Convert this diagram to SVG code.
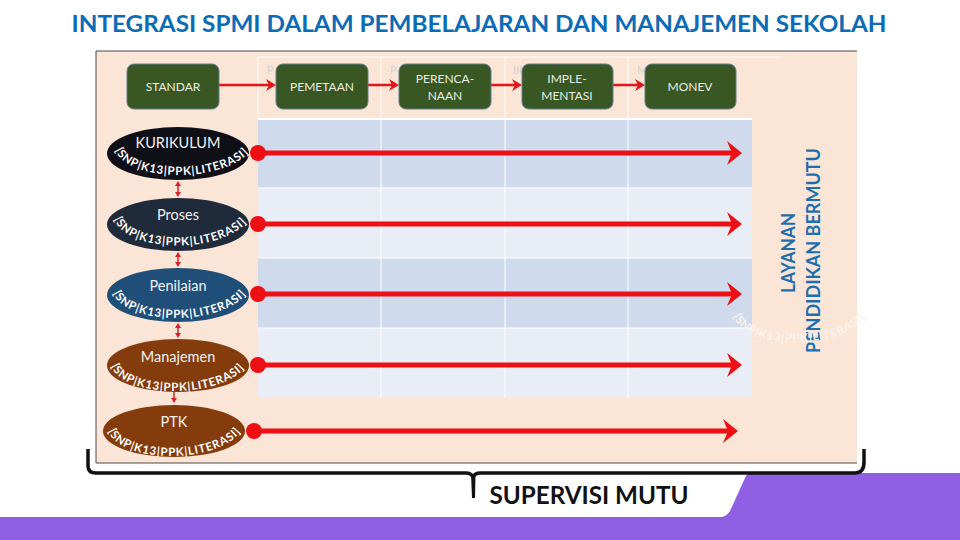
<svg xmlns="http://www.w3.org/2000/svg" width="960" height="540" viewBox="0 0 960 540">
<style>
.box{fill:#385723;stroke:#5f7f8c;stroke-width:1}
.bt{font-family:Lato,"Liberation Sans",sans-serif;font-size:12px;fill:#e8ece4;text-anchor:middle}
.et{font-family:Lato,"Liberation Sans",sans-serif;font-size:14.500px;fill:#f2f2f2;text-anchor:middle}
.ct{font-family:Lato,"Liberation Sans",sans-serif;font-size:11.500px;font-weight:700;fill:#fff;letter-spacing:.8px}
.big{stroke:#ee0f14;stroke-width:5;fill:none}
.thin{stroke:#e0161b;stroke-width:2.500;fill:none}
.tiny{stroke:#d8232a;stroke-width:1.500;fill:none}
.grid{stroke:#fff;stroke-width:1;fill:none}
.ghost{font-family:Lato,"Liberation Sans",sans-serif;font-size:11px;fill:#d2d2d2}
</style>
<defs>
<marker id="head" markerUnits="userSpaceOnUse" markerWidth="18" markerHeight="28" refX="7" refY="12" orient="auto"><path d="M0 0 L15 12 L0 24 L5 12Z" fill="#ee0f14"/></marker>
<marker id="h2" markerUnits="userSpaceOnUse" markerWidth="12" markerHeight="14" refX="5" refY="6" orient="auto"><path d="M0 0 L10 6 L0 12 L3 6Z" fill="#e0161b"/></marker>
<marker id="h3" markerUnits="userSpaceOnUse" markerWidth="8" markerHeight="8" refX="3" refY="3" orient="auto-start-reverse"><path d="M0 0 L5 3 L0 6Z" fill="#d8232a"/></marker>
<path id="a1" d="M115 150C129 184 232 184 254 146"/>
<path id="a2" d="M114 219C128 255 230 255 252 215"/>
<path id="a3" d="M113 293C127 327 228 327 250 289"/>
<path id="a4" d="M111 366C125 400 228 400 249 362"/>
<path id="a5" d="M108 431C122 465 223 465 244 427"/>
<path id="a6" d="M733 316C747 351 844 351 868 314"/>
</defs>
<rect width="960" height="540" fill="#fff"/>
<path id="purple" d="M0 517H722Q727 516 730 511L745 478Q747 473 752 473H960V540H0Z" fill="#8f5ee3"/>
<text id="title" x="479" y="32" font-family="Lato,'Liberation Sans',sans-serif" font-size="22" font-weight="700" fill="#0b6cb5" text-anchor="middle" textLength="815" lengthAdjust="spacingAndGlyphs">INTEGRASI SPMI DALAM PEMBELAJARAN DAN MANAJEMEN SEKOLAH</text>
<g id="panel">
<rect x="96" y="51" width="761" height="412" fill="#fbe5d6"/>
<path d="M857 51H96V463H857" fill="none" stroke="#4a4a4a" stroke-width="1"/>
</g>
<g id="table">
<rect x="258" y="119" width="494" height="69" fill="#cfdaec"/>
<rect x="258" y="188" width="494" height="70" fill="#e8edf6"/>
<rect x="258" y="258" width="494" height="70" fill="#cfdaec"/>
<rect x="258" y="328" width="494" height="70" fill="#e8edf6"/>
<path class="grid" d="M258 57H780M258 57V119M381 57V398M505 57V398M628 57V398M258 188H752M258 258H752M258 328H752"/>
<path d="M258 119H752" stroke="#fff" stroke-width="2"/>
<text class="ghost" x="267" y="74">P</text>
<text class="ghost" x="390" y="74">P</text>
<text class="ghost" x="513" y="74">III</text>
<text class="ghost" x="637" y="74">M</text>
</g>
<g id="connectors">
<path class="thin" marker-end="url(#h2)" d="M219 85H271"/>
<path class="thin" marker-end="url(#h2)" d="M368 85H394"/>
<path class="thin" marker-end="url(#h2)" d="M491 85H517"/>
<path class="thin" marker-end="url(#h2)" d="M613 85H640"/>
<path class="tiny" marker-start="url(#h3)" marker-end="url(#h3)" d="M178 183V195"/>
<path class="tiny" marker-start="url(#h3)" marker-end="url(#h3)" d="M178 254V265"/>
<path class="tiny" marker-start="url(#h3)" marker-end="url(#h3)" d="M178 325V336"/>
<path class="tiny" marker-end="url(#h3)" d="M174 388V401"/>
<path class="big" marker-end="url(#head)" d="M258 153H734"/>
<path class="big" marker-end="url(#head)" d="M258 224H734"/>
<path class="big" marker-end="url(#head)" d="M258 294H734"/>
<path class="big" marker-end="url(#head)" d="M258 365H734"/>
<path class="big" marker-end="url(#head)" d="M254 431H730"/>
<circle cx="258" cy="153" r="8" fill="#ee0f14"/>
<circle cx="258" cy="224" r="8" fill="#ee0f14"/>
<circle cx="258" cy="294" r="8" fill="#ee0f14"/>
<circle cx="258" cy="365" r="8" fill="#ee0f14"/>
<circle cx="254" cy="431" r="8" fill="#ee0f14"/>
</g>
<g id="standar"><rect class="box" x="127" y="64" width="92" height="45" rx="7"/><text class="bt" x="173" y="91">STANDAR</text></g>
<g id="pemetaan"><rect class="box" x="276" y="64" width="92" height="45" rx="7"/><text class="bt" x="322" y="91">PEMETAAN</text></g>
<g id="perencanaan"><rect class="box" x="399" y="64" width="92" height="45" rx="7"/><text class="bt" x="445" y="83">PERENCA-</text><text class="bt" x="445" y="100">NAAN</text></g>
<g id="implementasi"><rect class="box" x="522" y="64" width="91" height="45" rx="7"/><text class="bt" x="567" y="83">IMPLE-</text><text class="bt" x="567" y="100">MENTASI</text></g>
<g id="monev"><rect class="box" x="645" y="64" width="91" height="45" rx="7"/><text class="bt" x="690" y="91">MONEV</text></g>
<g id="kurikulum"><ellipse cx="178" cy="153.500" rx="71" ry="26.500" fill="#0f0f18"/><text class="et" x="178" y="148">KURIKULUM</text><text class="ct"><textPath href="#a1">[SNP|K13|PPK|LITERASI]</textPath></text></g>
<g id="proses"><ellipse cx="178" cy="224.500" rx="71" ry="26.500" fill="#1f2a3a"/><text class="et" x="178" y="220">Proses</text><text class="ct"><textPath href="#a2">[SNP|K13|PPK|LITERASI]</textPath></text></g>
<g id="penilaian"><ellipse cx="178" cy="295" rx="71" ry="27" fill="#1f4e79"/><text class="et" x="178" y="291">Penilaian</text><text class="ct"><textPath href="#a3">[SNP|K13|PPK|LITERASI]</textPath></text></g>
<g id="manajemen"><ellipse cx="178" cy="365.500" rx="71" ry="26.500" fill="#843c0c"/><text class="et" x="178" y="362">Manajemen</text><text class="ct"><textPath href="#a4">[SNP|K13|PPK|LITERASI]</textPath></text></g>
<g id="ptk"><ellipse cx="174" cy="431" rx="71" ry="26" fill="#843c0c"/><text class="et" x="174" y="427">PTK</text><text class="ct"><textPath href="#a5">[SNP|K13|PPK|LITERASI]</textPath></text></g>
<g id="layanan" font-family="Lato,'Liberation Sans',sans-serif" font-size="19" font-weight="700" fill="#1b6fb0" text-anchor="middle">
<text transform="translate(795 253) rotate(-90)" textLength="80" lengthAdjust="spacingAndGlyphs">LAYANAN</text>
<text transform="translate(820 250.500) rotate(-90)" textLength="205" lengthAdjust="spacingAndGlyphs">PENDIDIKAN BERMUTU</text>
</g>
<text id="arc-label" class="ct" style="fill:#fbf3ee"><textPath href="#a6">[SNP|K13|PPK|LITERASI]</textPath></text>
<g id="supervisi">
<path d="M88 449V466Q88 473 96 473H466Q471 473 473 477Q475 473 480 473H855Q864 473 864 462V449" fill="none" stroke="#111" stroke-width="3.500"/>
<path d="M471 474H475.500L475 498H472Z" fill="#111"/>
<text x="589" y="504" font-family="Lato,'Liberation Sans',sans-serif" font-size="24" font-weight="700" fill="#111" text-anchor="middle" textLength="199" lengthAdjust="spacingAndGlyphs">SUPERVISI MUTU</text>
</g>
</svg>
